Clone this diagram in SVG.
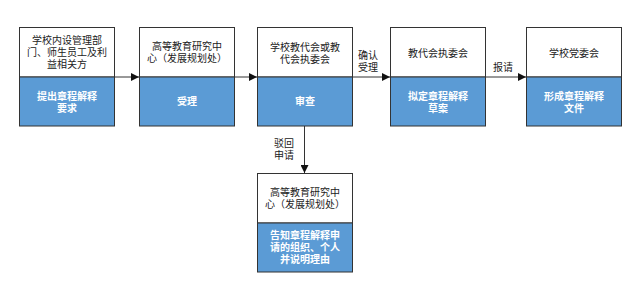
<svg xmlns="http://www.w3.org/2000/svg" width="640" height="300" viewBox="0 0 640 300">
<defs>
<style>
.top{fill:#fff;stroke:#333;stroke-width:1}
.bot{fill:#5b9bd5;stroke:#333;stroke-width:1}
.t{font-family:"Liberation Sans","Noto Sans CJK SC",sans-serif;font-size:10px;fill:#222;text-anchor:middle;dominant-baseline:central}
.w{font-family:"Liberation Sans","Noto Sans CJK SC",sans-serif;font-size:10px;fill:#fff;font-weight:bold;text-anchor:middle;dominant-baseline:central}
.c{stroke:#333;stroke-width:1;fill:none;marker-end:url(#ah)}
</style>
<marker id="ah" markerWidth="8" markerHeight="8" refX="8" refY="4" orient="auto" markerUnits="userSpaceOnUse">
<path d="M0,0 L8,4 L0,8 Z" fill="#111"/>
</marker>
</defs>
<rect width="640" height="300" fill="#fff"/>
<g id="connectors">
<line class="c" x1="115" y1="77" x2="139" y2="77"/>
<line class="c" x1="235" y1="77" x2="257" y2="77"/>
<line class="c" x1="353" y1="77" x2="390" y2="77"/>
<line class="c" x1="486" y1="77" x2="526" y2="77"/>
<line class="c" x1="304.5" y1="126" x2="304.5" y2="173"/>
<text class="t" x="368" y="55">确认</text>
<text class="t" x="368" y="67">受理</text>
<text class="t" x="503" y="67">报请</text>
<text class="t" x="284" y="143">驳回</text>
<text class="t" x="284" y="155">申请</text>
</g>
<g id="n1">
<rect class="top" x="19.5" y="27.5" width="95" height="49.5"/>
<rect class="bot" x="19.5" y="77" width="95" height="49"/>
<text class="t" x="67" y="40.5">学校内设管理部</text>
<text class="t" x="67" y="52.5">门、师生员工及利</text>
<text class="t" x="67" y="64.5">益相关方</text>
<text class="w" x="67" y="96">提出章程解释</text>
<text class="w" x="67" y="108">要求</text>
</g>
<g id="n2">
<rect class="top" x="139.5" y="27.5" width="95" height="49.5"/>
<rect class="bot" x="139.5" y="77" width="95" height="49"/>
<text class="t" x="187" y="46">高等教育研究中</text>
<text class="t" x="187" y="58">心（发展规划处）</text>
<text class="w" x="187" y="101.5">受理</text>
</g>
<g id="n3">
<rect class="top" x="257.5" y="27.5" width="95" height="49.5"/>
<rect class="bot" x="257.5" y="77" width="95" height="49"/>
<text class="t" x="305" y="47">学校教代会或教</text>
<text class="t" x="305" y="59">代会执委会</text>
<text class="w" x="305" y="101.5">审查</text>
</g>
<g id="n4">
<rect class="top" x="390.5" y="27.5" width="95" height="49.5"/>
<rect class="bot" x="390.5" y="77" width="95" height="49"/>
<text class="t" x="438" y="53">教代会执委会</text>
<text class="w" x="438" y="96">拟定章程解释</text>
<text class="w" x="438" y="108">草案</text>
</g>
<g id="n5">
<rect class="top" x="526.5" y="27.5" width="95" height="49.5"/>
<rect class="bot" x="526.5" y="77" width="95" height="49"/>
<text class="t" x="574" y="53">学校党委会</text>
<text class="w" x="574" y="96">形成章程解释</text>
<text class="w" x="574" y="108">文件</text>
</g>
<g id="n6">
<rect class="top" x="257.5" y="173.5" width="95" height="49.5"/>
<rect class="bot" x="257.5" y="223" width="95" height="49"/>
<text class="t" x="305" y="192">高等教育研究中</text>
<text class="t" x="305" y="204">心（发展规划处）</text>
<text class="w" x="305" y="235">告知章程解释申</text>
<text class="w" x="305" y="247">请的组织、个人</text>
<text class="w" x="305" y="259">并说明理由</text>
</g>
</svg>
